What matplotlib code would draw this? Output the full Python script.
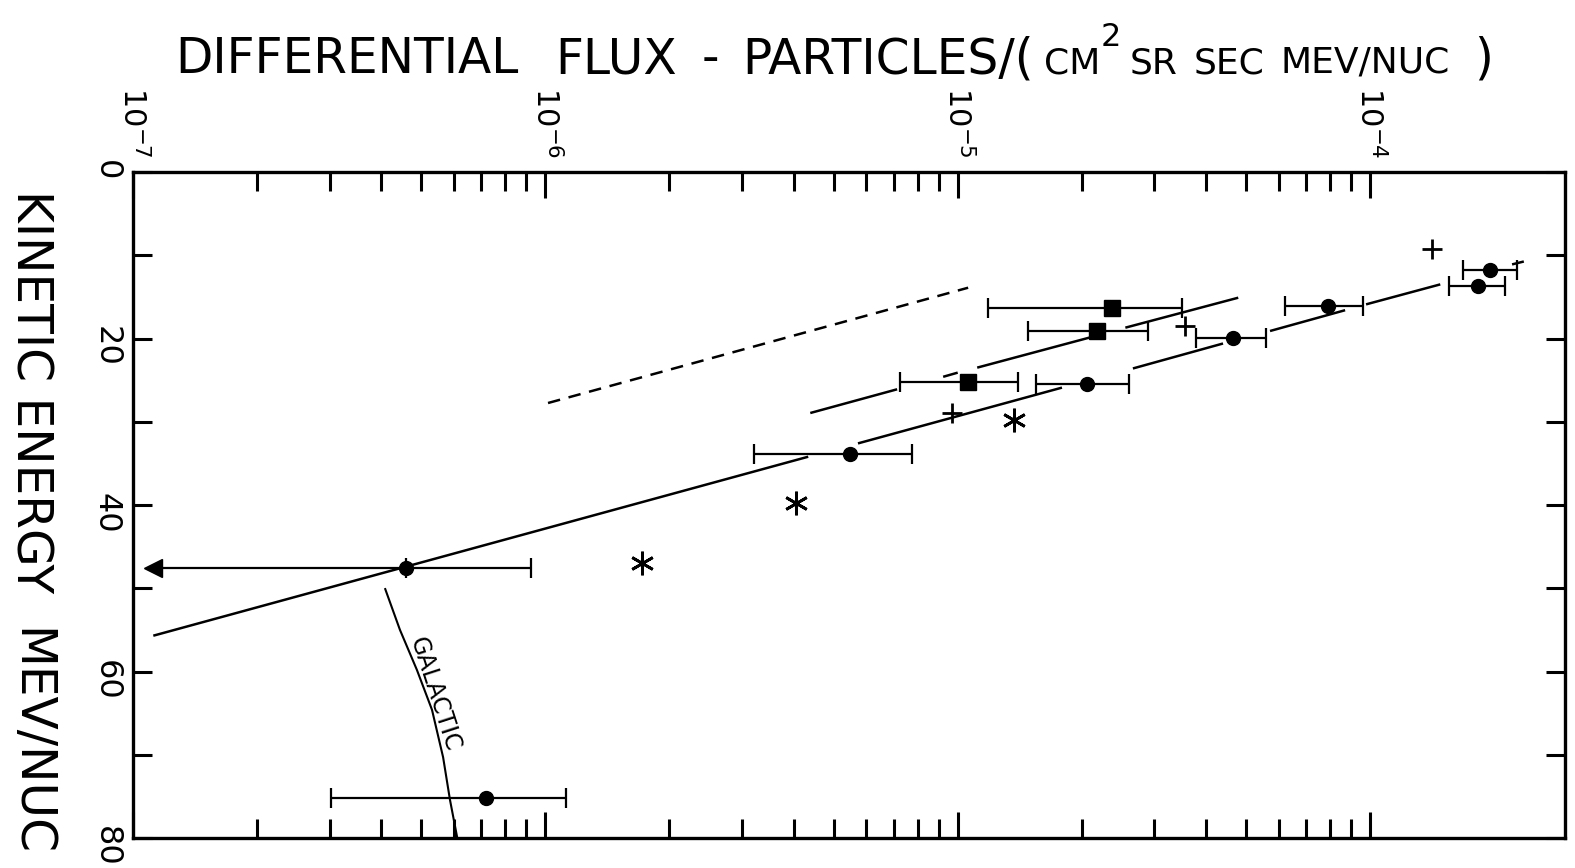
"""Differential flux vs kinetic energy, redrawn from an old scanned figure."""

import matplotlib

matplotlib.use("Agg")
import matplotlib.pyplot as plt
import numpy as np
from matplotlib.ticker import FixedLocator, NullFormatter

# Filled circles: flux, energy and the ends of the horizontal error bars
circle_flux = np.array([1.956e-4, 1.83e-4, 7.92e-5, 4.66e-5, 2.06e-5, 5.48e-6, 7.18e-7])
circle_energy = np.array([11.8, 13.7, 16.1, 19.9, 25.5, 33.9, 75.2])
circle_lo = np.array([1.68e-4, 1.55e-4, 6.22e-5, 3.79e-5, 1.55e-5, 3.21e-6, 3.02e-7])
circle_hi = np.array([2.27e-4, 2.13e-4, 9.62e-5, 5.60e-5, 2.60e-5, 7.75e-6, 1.12e-6])

# The circle with an upper-limit arrow
limit_flux = np.array([4.59e-7])
limit_energy = np.array([47.6])
limit_hi = np.array([9.23e-7])
limit_arrow = np.array([1.12e-7])

# Filled squares
square_flux = np.array([2.37e-5, 2.18e-5, 1.06e-5])
square_energy = np.array([16.3, 19.1, 25.2])
square_lo = np.array([1.185e-5, 1.48e-5, 7.25e-6])
square_hi = np.array([3.50e-5, 2.90e-5, 1.40e-5])

# Plus signs and asterisks
plus_flux = [1.415e-4, 3.56e-5, 9.69e-6]
plus_energy = [9.25, 18.5, 28.9]
star_flux = [1.37e-5, 4.06e-6, 1.72e-6]
star_energy = [29.8, 39.8, 47.0]

# Fitted lines, drawn as broken pieces (start, end) like the original
lower_fit_flux = [[1.12e-7, 4.34e-6], [5.73e-6, 1.79e-5], [2.66e-5, 4.40e-5],
                  [5.72e-5, 8.70e-5], [9.78e-5, 1.48e-4], [2.21e-4, 2.36e-4]]
lower_fit_energy = [[55.7, 34.2], [32.6, 25.9], [23.6, 20.6],
                    [19.1, 16.6], [15.9, 13.5], [11.1, 10.75]]
upper_fit_flux = [[4.39e-6, 7.13e-6], [9.22e-6, 1.00e-5], [1.115e-5, 2.12e-5], [2.55e-5, 4.79e-5]]
upper_fit_energy = [[28.95, 26.1], [24.6, 24.1], [23.5, 19.8], [18.7, 15.1]]
dashed_flux = [1.015e-6, 1.06e-5]
dashed_energy = [27.75, 13.9]

# Galactic spectrum
galactic_flux = [4.09e-7, 4.44e-7, 4.88e-7, 5.31e-7, 5.65e-7, 5.87e-7, 6.11e-7]
galactic_energy = [50.1, 55.0, 59.8, 64.6, 70.3, 75.4, 79.9]

# Axes
major_ticks = [1e-7, 1e-6, 1e-5, 1e-4]
major_labels = [r"$10^{-7}$", r"$10^{-6}$", r"$10^{-5}$", r"$10^{-4}$"]
minor_ticks = [m * 10.0**e for e in (-7, -6, -5) for m in range(2, 10)]
energy_ticks = [0, 20, 40, 60, 80]
energy_minor = [10, 30, 50, 70]

plt.rcParams["font.family"] = ["DejaVu Sans"]
plt.rcParams["mathtext.default"] = "regular"

W, H = 1575, 868
fig = plt.figure(figsize=(W / 100, H / 100), dpi=100)
ax = fig.add_axes([133 / W, 1 - 838 / H, (1565 - 133) / W, (838 - 172) / H])

ax.set_xscale("log")
ax.set_xlim(1e-7, 2.97e-4)
ax.set_ylim(80, 0)

lw = 1.8
kw = dict(color="black", lw=lw, solid_capstyle="butt")
for fx, en in zip(lower_fit_flux, lower_fit_energy):
    ax.plot(fx, en, **kw)
for fx, en in zip(upper_fit_flux, upper_fit_energy):
    ax.plot(fx, en, **kw)
ax.plot(dashed_flux, dashed_energy, color="black", lw=lw, dashes=(5, 3.5))
ax.plot(galactic_flux, galactic_energy, color="black", lw=1.5, solid_joinstyle="round")
ax.text(5.4e-7, 62.7, "GALACTIC", rotation=-72, ha="center", va="center",
        rotation_mode="anchor", size=17)

eb = dict(color="black", capsize=7, elinewidth=1.6, capthick=1.6, linestyle="none")
ax.errorbar(circle_flux, circle_energy,
            xerr=[circle_flux - circle_lo, circle_hi - circle_flux], fmt="o", ms=10, **eb)
ax.errorbar(square_flux, square_energy,
            xerr=[square_flux - square_lo, square_hi - square_flux], fmt="s", ms=12, **eb)
ax.errorbar(limit_flux, limit_energy, xerr=[limit_flux * 0, limit_hi - limit_flux],
            fmt="o", ms=10, **eb)
ax.plot([limit_arrow[0], limit_flux[0]], [limit_energy[0], limit_energy[0]], color="black", lw=1.6)
ax.plot(limit_arrow, limit_energy, marker="<", ms=13, color="black", linestyle="none")

ax.plot(plus_flux, plus_energy, "+", color="black", ms=14, mew=2)
ax.plot(star_flux, star_energy, marker=(6, 2, 0), color="black", ms=17, mew=2, linestyle="none")

# Ticks on all four sides, pointing in
ax.xaxis.set_major_locator(FixedLocator(major_ticks))
ax.xaxis.set_minor_locator(FixedLocator(minor_ticks))
ax.xaxis.set_minor_formatter(NullFormatter())
ax.set_xticklabels(major_labels)
ax.tick_params(axis="x", which="both", top=True, bottom=True, labeltop=True,
               labelbottom=False, direction="in", width=2.2)
ax.tick_params(axis="x", which="major", length=19, labelsize=22, labelrotation=-90, pad=10)
ax.tick_params(axis="x", which="minor", length=14)

ax.set_yticks(energy_ticks)
ax.yaxis.set_minor_locator(FixedLocator(energy_minor))
ax.tick_params(axis="y", which="both", left=True, right=True, direction="in",
               length=14, width=2.2, labelsize=23, labelrotation=-90, pad=8)
for s in ax.spines.values():
    s.set_linewidth(2.4)

# Rotated axis title on the left
fig.text(30 / W, 1 - 190 / H, "KINETIC ENERGY", rotation=-90, ha="center", va="top", size=35)
fig.text(30 / W, 1 - 628 / H, "MEV/NUC", rotation=-90, ha="center", va="top", size=35)

# Title: words placed one by one, as the hand lettering is spaced
title_words = ["DIFFERENTIAL", "FLUX", "-", "PARTICLES/(", "CM", "2", "SR", "SEC", "MEV/NUC", ")"]
title_x = [175, 555, 702, 742, 1044, 1101, 1130, 1194, 1280, 1474]
title_base = [73, 73, 73, 73, 73, 46, 73, 73, 73, 73]
title_size = [35, 35, 35, 35, 26, 23, 26, 26, 26, 35]
for s, x, b, sz in zip(title_words, title_x, title_base, title_size):
    fig.text(x / W, 1 - b / H, s, size=sz, ha="left", va="baseline")

fig.savefig("out.png", dpi=100, facecolor="white")
